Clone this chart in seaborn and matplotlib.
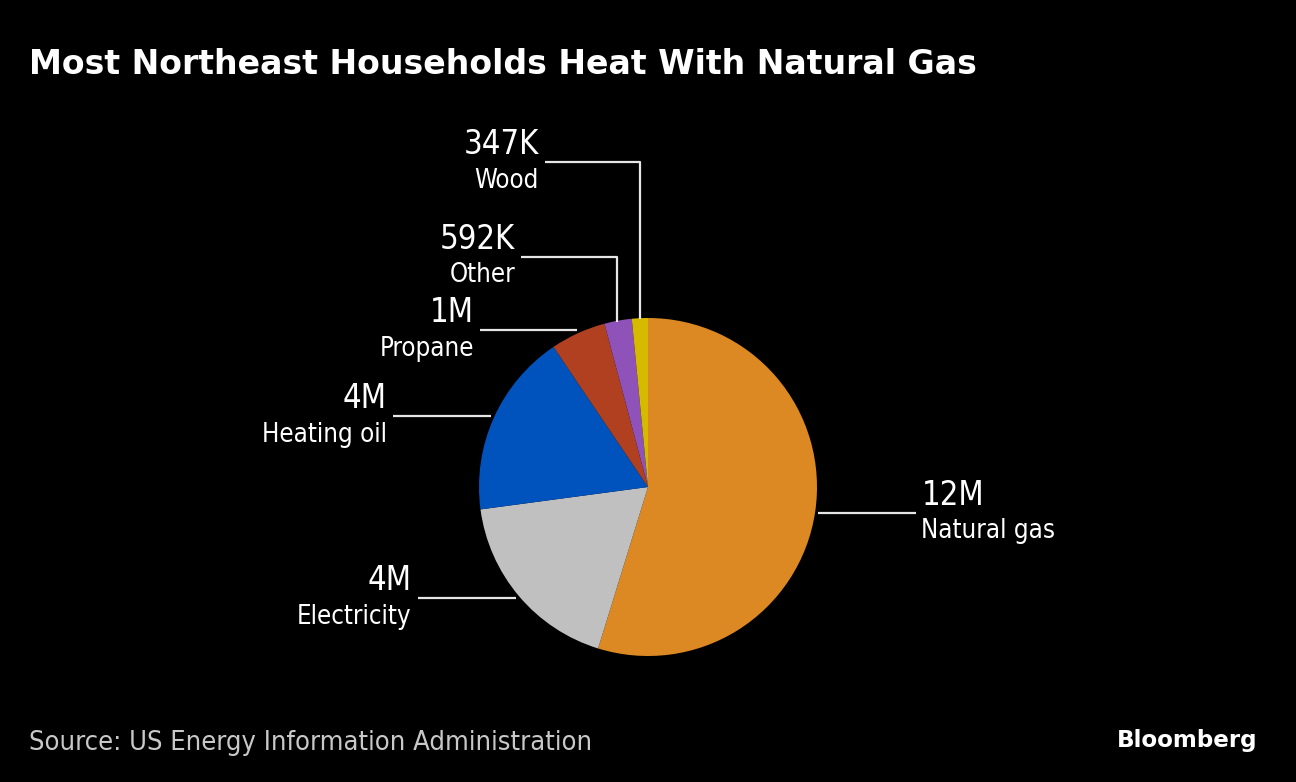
import numpy as np
import matplotlib
matplotlib.use("Agg")
import matplotlib.pyplot as plt
import seaborn as sns

categories = ["Natural gas", "Electricity", "Heating oil", "Propane", "Other", "Wood"]
values = [12.4, 4.1, 4.0, 1.2, 0.592, 0.347]  # millions of households
value_labels = ["12M", "4M", "4M", "1M", "592K", "347K"]
colors = ["#DC8823", "#C0C0C0", "#0053BD", "#B0401F", "#8E52B8", "#D6BA00"]

title = "Most Northeast Households Heat With Natural Gas"
source = "Source: US Energy Information Administration"

sns.set_theme(style="dark")
plt.rcParams["font.family"] = ["DejaVu Sans"]

W, H = 1296, 782
fig = plt.figure(figsize=(W / 100, H / 100), dpi=100, facecolor="black")
ax = fig.add_axes([0, 0, 1, 1])
ax.set_facecolor("black")

R = 169.0
cx, cy = 648.0, 487.0
ax.pie(values, colors=colors, startangle=90, counterclock=False, radius=1,
       center=(0, 0), wedgeprops=dict(linewidth=0))
ax.set_xlim(-cx / R, (W - cx) / R)
ax.set_ylim(-(H - cy) / R, cy / R)
ax.set_aspect("equal")
ax.axis("off")

# leader layout: side, elbow height (None = straight horizontal), horizontal length
layout = {
    "Natural gas": ("right", None, 0.58),
    "Electricity": ("left", None, 0.585),
    "Heating oil": ("left", None, 0.58),
    "Propane": ("left", None, 0.57),
    "Other": ("left", (487 - 257) / R, 0.57),
    "Wood": ("left", (487 - 162) / R, 0.56),
}

total = sum(values)
cum = 0.0
line_kw = dict(color="#e6e6e6", lw=1.6, solid_capstyle="butt")
for cat, v, vl in zip(categories, values, value_labels):
    mid = (cum + v / 2) / total * 2 * np.pi  # clockwise from top
    cum += v
    x0, y0 = 1.02 * np.sin(mid), 1.02 * np.cos(mid)
    side, elbow, length = layout[cat]
    if elbow is None:
        ly = y0
        xs = [x0, x0 + length] if side == "right" else [x0, x0 - length]
        ax.plot(xs, [ly, ly], **line_kw)
        xend = xs[1]
    else:
        ly = elbow
        xend = x0 - length
        ax.plot([x0, x0, xend], [np.cos(mid) * 0.995, ly, ly], **line_kw)
    if side == "right":
        tx, ha = xend + 5 / R, "left"
    else:
        tx, ha = xend - 6 / R, "right"
    ax.text(tx, ly + 8 / R, vl, ha=ha, va="baseline", color="white",
            fontsize=23.5, fontstretch="condensed")
    ax.text(tx, ly - 25.5 / R, cat, ha=ha, va="baseline", color="white",
            fontsize=18.5, fontstretch="condensed")

fig.text(29 / W, 1 - 74 / H, title, ha="left", va="baseline", color="white",
         fontsize=23.9, fontweight="bold")
fig.text(29 / W, 1 - 750 / H, source, ha="left", va="baseline", color="#c8c8c8",
         fontsize=19.5, fontstretch="condensed")
fig.text(1257 / W, 1 - 747 / H, "Bloomberg", ha="right", va="baseline",
         color="white", fontsize=16.6, fontweight="bold")

fig.savefig("out.png", dpi=100, facecolor="black")
